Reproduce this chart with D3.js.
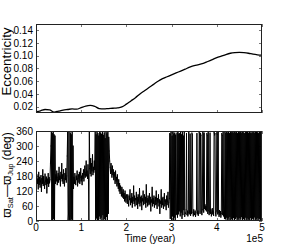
<!DOCTYPE html>
<html><head><meta charset="utf-8">
<script src="https://cdn.jsdelivr.net/npm/d3@7"></script>
<style>body{margin:0;background:#fff}svg{display:block}text{font-family:"Liberation Sans",Arial,sans-serif;fill:#000}</style>
</head><body>
<script>
// Eccentricity, sampled every 10,000 years (0 .. 500,000)
const eccTime = d3.range(0, 500001, 10000);
const eccValues = [0.012,0.0135,0.0155,0.015,0.0115,0.013,0.0145,0.0155,0.0165,0.016,
  0.0185,0.021,0.022,0.0205,0.017,0.0165,0.017,0.0175,0.018,0.0195,
  0.024,0.029,0.034,0.040,0.045,0.050,0.055,0.060,0.064,0.067,
  0.070,0.073,0.076,0.079,0.082,0.0845,0.086,0.088,0.091,0.094,
  0.097,0.0995,0.102,0.104,0.105,0.1055,0.105,0.104,0.1025,0.1015,0.101];
// Angle difference (deg), sampled every 1,000 years
const phaseValues = [
  // 0 - 31k
  172,140,185,150,168,128,195,146,175,135,160,182,118,170,150,205,142,178,155,130,
  188,160,145,176,112,168,150,190,138,174,152,165,
  // 32 - 42k
  230,300,358,5,350,2,356,10,345,0,340,
  // 43 - 68k
  150,185,160,200,145,175,190,155,215,165,180,140,195,170,230,160,185,150,205,170,
  140,190,165,210,155,180,
  // 69 - 82k
  260,355,3,30,358,6,20,352,0,345,8,356,2,300,
  // 83 - 130k
  130,175,150,190,160,145,180,165,200,140,170,185,155,195,150,175,210,160,180,145,
  190,170,205,160,185,220,175,195,240,180,200,170,225,185,5,355,210,190,250,180,
  230,200,265,185,215,195,240,205,
  // 131 - 163k
  358,2,345,12,355,5,350,0,340,20,359,8,352,15,347,3,356,25,343,6,
  353,10,330,1,358,18,349,4,357,30,335,280,240,
  // 164 - 200k
  215,190,230,200,175,220,185,205,165,195,180,150,200,160,175,140,185,150,130,165,
  120,150,110,140,125,100,135,115,95,125,90,110,80,120,95,75,105,
  // 201 - 295k
  95,70,105,80,60,100,85,125,65,90,75,110,55,95,80,140,70,100,60,90,
  85,115,65,95,50,105,80,70,130,60,95,75,100,45,90,80,120,65,85,105,
  70,95,55,145,75,90,60,100,80,65,110,70,95,40,85,75,135,60,90,70,
  100,55,80,95,65,120,70,50,90,75,105,60,85,30,80,70,125,55,90,65,
  95,50,80,110,60,85,70,45,100,65,80,115,55,75,90,
  // 296 - 310k
  350,10,345,358,5,340,20,356,2,348,15,352,0,344,25,
  // 311 - 330k
  30,352,15,355,28,348,40,350,20,357,35,345,10,354,25,340,45,356,18,32,
  // 331 - 417k
  30,45,350,25,40,20,35,355,28,42,348,22,38,30,352,345,35,20,45,30,
  25,40,18,33,48,350,28,40,22,36,355,346,30,351,343,38,25,45,356,348,
  35,352,50,65,45,58,40,350,342,30,355,42,25,38,352,30,45,20,35,50,
  28,40,22,355,344,350,32,20,40,353,346,28,357,35,18,42,25,38,15,30,
  350,342,25,355,20,35,10,
  // 418 - 500k
  355,8,351,15,358,3,352,12,356,5,350,18,357,2,353,10,359,6,351,14,
  354,0,358,9,352,16,356,4,350,11,357,1,353,13,359,7,351,17,355,3,
  358,10,352,6,350,15,356,2,354,12,359,5,351,8,357,0,353,14,350,4,
  356,11,352,7,358,16,351,3,355,9,359,1,353,13,350,6,357,10,354,2,
  358,12,351];
const phaseTime = phaseValues.map((v,i)=> i*500000/(phaseValues.length-1));
const eccTicks = [0.02,0.04,0.06,0.08,0.10,0.12,0.14];
const phaseTicks = [0,60,120,180,240,300,360];
const timeTicks = [0,100000,200000,300000,400000,500000];
const timeTickLabels = ["0","1","2","3","4","5"];

const W=291,H=245, L=36, R=262, T1=24, B1=113, T2=131, B2=221;
const svg=d3.select("body").append("svg").attr("width",W).attr("height",H);
const x=d3.scaleLinear().domain([0,500000]).range([L,R]);
const y1=d3.scaleLinear().domain([0.01,0.15]).range([B1,T1]);
const y2=d3.scaleLinear().domain([0,360]).range([B2,T2]);

function panel(y, top, bottom, yt, fmt, xlabels){
  const g=svg.append("g");
  const tk=g.append("g").attr("stroke","#777").attr("stroke-width",1).attr("shape-rendering","crispEdges");
  yt.forEach(v=>{
    const yy=Math.round(y(v))+0.5;
    tk.append("line").attr("x1",L).attr("x2",L+3).attr("y1",yy).attr("y2",yy);
    tk.append("line").attr("x1",R-3).attr("x2",R).attr("y1",yy).attr("y2",yy);
  });
  timeTicks.forEach(v=>{
    const xx=Math.round(x(v))+0.5;
    tk.append("line").attr("x1",xx).attr("x2",xx).attr("y1",top).attr("y2",top+3);
    tk.append("line").attr("x1",xx).attr("x2",xx).attr("y1",bottom-3).attr("y2",bottom);
  });
  yt.forEach(v=>{
    g.append("text").attr("x",33).attr("y",y(v)).attr("dy","0.36em").attr("text-anchor","end")
     .attr("font-size",10).text(fmt(v));
  });
  if(xlabels){
    timeTicks.forEach((v,i)=>{
      g.append("text").attr("x",x(v)).attr("y",bottom+9.5).attr("text-anchor","middle")
       .attr("font-size",10).text(timeTickLabels[i]);
    });
  }
  return g;
}
function frame(top,bottom){
  svg.append("rect").attr("x",L+0.5).attr("y",top+0.5).attr("width",R-L-1).attr("height",bottom-top-1)
    .attr("fill","none").attr("stroke","#222").attr("stroke-width",1);
}
panel(y1,T1,B1,eccTicks,d3.format(".2f"),false);
panel(y2,T2,B2,phaseTicks,d3.format("d"),true);

svg.append("defs").append("clipPath").attr("id","c2").append("rect").attr("x",L).attr("y",T2).attr("width",R-L).attr("height",B2-T2);

svg.append("path").datum(eccValues.map((v,i)=>[eccTime[i],v]))
  .attr("fill","none").attr("stroke","#000").attr("stroke-width",1.3)
  .attr("d",d3.line().x(d=>x(d[0])).y(d=>y1(d[1])).curve(d3.curveMonotoneX));

const phasePts = phaseValues.map((v,i)=>[phaseTime[i],v]);
const segLine = d3.line().x(d=>x(d[0])).y(d=>y2(d[1]));
svg.append("g").attr("clip-path","url(#c2)")
  .selectAll("path").data(d3.pairs(phasePts)).join("path")
  .attr("fill","none").attr("stroke","#000").attr("stroke-width",1).attr("stroke-linecap","round")
  .attr("d",d=>segLine(d));

frame(T1,B1); frame(T2,B2);

svg.append("text").attr("transform",`translate(10.5,61.5) rotate(-90)`).attr("text-anchor","middle")
  .attr("font-size",12).attr("textLength",68).attr("lengthAdjust","spacingAndGlyphs").text("Eccentricity");
const yl=svg.append("text").attr("transform",`translate(10.5,${(T2+B2)/2-1}) rotate(-90)`).attr("text-anchor","middle")
  .attr("font-size",12);
yl.append("tspan").text("ϖ");
yl.append("tspan").attr("font-size",7.5).attr("dy",2).text("Sat");
yl.append("tspan").attr("dy",-2).text("—ϖ");
yl.append("tspan").attr("font-size",7.5).attr("dy",2).text("Jup");
yl.append("tspan").attr("dy",-2).text(" (deg)");
svg.append("text").attr("x",(L+R)/2+1).attr("y",242).attr("text-anchor","middle").attr("font-size",10).text("Time (year)");
svg.append("text").attr("x",R+1).attr("y",242).attr("text-anchor","end").attr("font-size",10).text("1e5");
</script>
</body></html>
